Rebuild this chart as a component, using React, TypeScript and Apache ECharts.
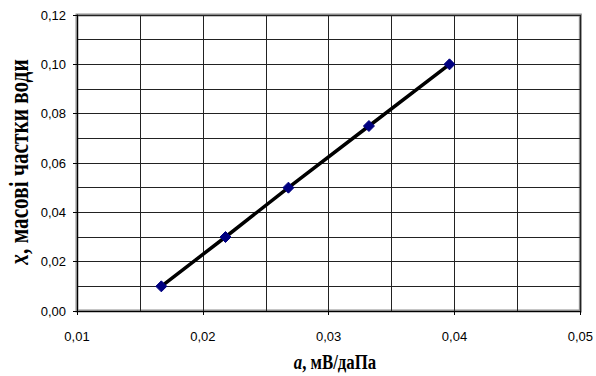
import React, { useEffect, useRef } from "react";
import * as echarts from "echarts";

const aValues = [0.0167, 0.0218, 0.0268, 0.0332, 0.0396];
const xValues = [0.01, 0.03, 0.05, 0.075, 0.1];
const xAxisTitle = ["a", ", мВ/даПа"];
const yAxisTitle = ["x", ", масові частки води"];

const fmt = (v: number) => v.toFixed(2).replace(".", ",");

export default function App() {
  const ref = useRef<HTMLDivElement>(null);
  useEffect(() => {
    if (!ref.current) return;
    const chart = echarts.init(ref.current, null, { renderer: "svg" });
    const gridLine = { show: true, lineStyle: { color: "#222", width: 1 } };
    const titleRich = (size: number) => ({
      i: { fontFamily: "Liberation Serif", fontStyle: "italic", fontWeight: "bold", fontSize: size, fill: "#000" },
      b: { fontFamily: "Liberation Serif", fontWeight: "bold", fontSize: size, fill: "#000" },
    });
    chart.setOption({
      animation: false,
      backgroundColor: "#fff",
      grid: {
        left: 77,
        right: 14,
        top: 15,
        bottom: 65,
        show: true,
        borderColor: "#8c8c8c",
        borderWidth: 3,
      },
      graphic: [
        {
          type: "text",
          x: 335,
          y: 362,
          scaleX: 0.8,
          scaleY: 1,
          style: {
            text: `{i|${xAxisTitle[0]}}{b|${xAxisTitle[1]}}`,
            rich: titleRich(21),
            align: "center",
            verticalAlign: "middle",
          },
        },
        {
          type: "text",
          x: 18,
          y: 162,
          rotation: Math.PI / 2,
          scaleX: 0.76,
          scaleY: 1,
          style: {
            text: `{i|${yAxisTitle[0]}}{b|${yAxisTitle[1]}}`,
            rich: titleRich(28),
            align: "center",
            verticalAlign: "middle",
          },
        },
      ],
      xAxis: {
        type: "value",
        min: 0.01,
        max: 0.05,
        interval: 0.01,
        axisLine: { show: true, lineStyle: { color: "#000", width: 1 } },
        axisTick: { show: true, inside: false, length: 4, lineStyle: { color: "#000" } },
        axisLabel: {
          formatter: fmt,
          fontFamily: "Liberation Sans",
          fontSize: 13,
          color: "#000",
          margin: 19,
        },
        splitLine: gridLine,
        minorTick: { show: false, splitNumber: 2 },
        minorSplitLine: gridLine,
      },
      yAxis: {
        type: "value",
        min: 0,
        max: 0.12,
        interval: 0.02,
        axisLine: { show: true, lineStyle: { color: "#000", width: 1 } },
        axisTick: { show: true, inside: false, length: 4, lineStyle: { color: "#000" } },
        axisLabel: {
          formatter: fmt,
          fontFamily: "Liberation Sans",
          fontSize: 13,
          color: "#000",
          margin: 11,
        },
        splitLine: gridLine,
        minorTick: { show: false, splitNumber: 2 },
        minorSplitLine: gridLine,
      },
      series: [
        {
          type: "line",
          data: aValues.map((a, i) => [a, xValues[i]]),
          lineStyle: { color: "#000", width: 3.5 },
          symbol: "diamond",
          symbolSize: 11,
          itemStyle: { color: "#000080", borderColor: "#000080" },
          z: 3,
        },
      ],
    });
    return () => chart.dispose();
  }, []);
  return (
    <div
      ref={ref}
      style={{ position: "absolute", left: 0, top: 0, width: 596, height: 376 }}
    />
  );
}
